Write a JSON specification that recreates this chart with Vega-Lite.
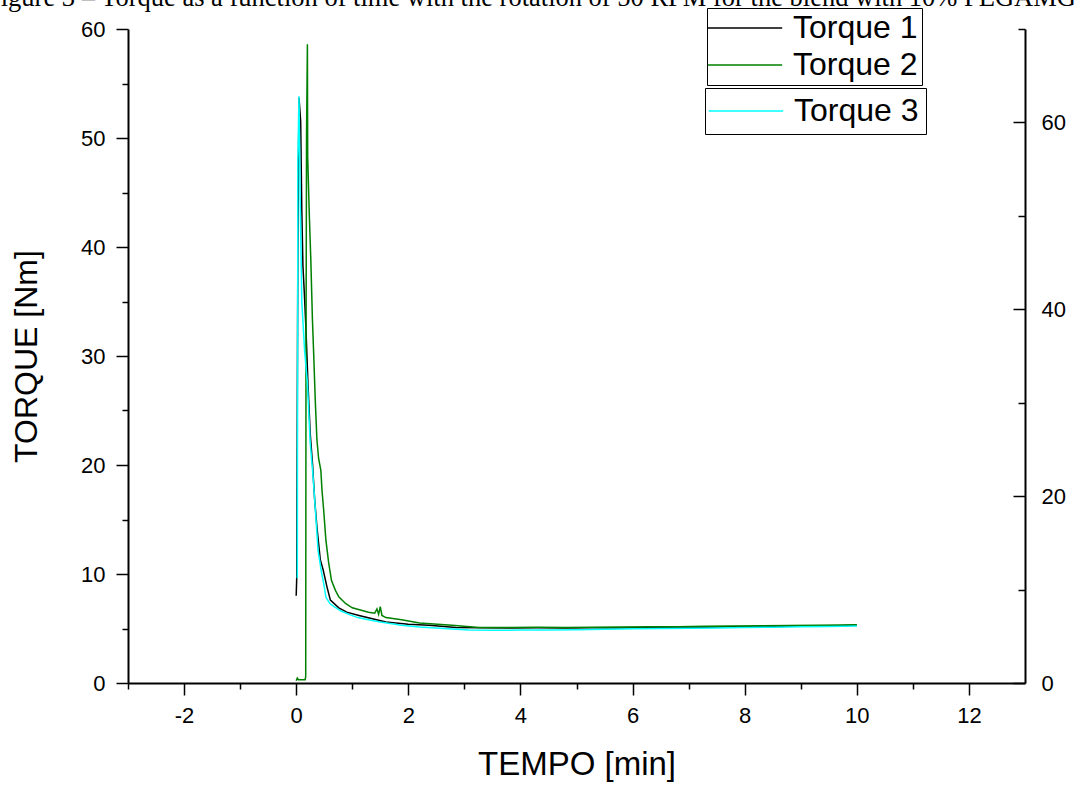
{
  "$schema": "https://vega.github.io/schema/vega-lite/v6.json",
  "width": 897,
  "height": 654,
  "autosize": {"type": "none"},
  "padding": {"left": 128, "top": 29, "right": 51, "bottom": 102},
  "background": "white",
  "title": {
    "text": "Figure 3 – Torque as a function of time with the rotation of 50 RPM for the blend with 10% PEGAMG",
    "anchor": "start",
    "frame": "group",
    "font": "Liberation Serif",
    "fontSize": 26.5,
    "fontWeight": "normal",
    "color": "black",
    "baseline": "alphabetic",
    "offset": -25,
    "limit": 3000,
    "dx": -142
  },
  "config": {
    "view": {"stroke": null},
    "axis": {
      "labelFont": "Liberation Sans",
      "titleFont": "Liberation Sans",
      "labelColor": "black",
      "titleColor": "black",
      "titleFontWeight": "normal",
      "domainColor": "black",
      "domainWidth": 2,
      "tickColor": "black",
      "tickWidth": 1.5,
      "grid": false,
      "labelFontSize": 22,
      "titleFontSize": 32,
      "labelOverlap": false,
      "labelFlush": false
    }
  },
  "layer": [
    {
      "data": {
        "values": [
          {"series": "Torque 1", "time": 0.0, "torque": 8.0},
          {"series": "Torque 1", "time": 0.01, "torque": 9.7},
          {"series": "Torque 1", "time": 0.015, "torque": 18.8},
          {"series": "Torque 1", "time": 0.03, "torque": 40.0},
          {"series": "Torque 1", "time": 0.05, "torque": 53.7},
          {"series": "Torque 1", "time": 0.08, "torque": 51.5},
          {"series": "Torque 1", "time": 0.1, "torque": 43.4},
          {"series": "Torque 1", "time": 0.12, "torque": 38.3},
          {"series": "Torque 1", "time": 0.146, "torque": 35.7},
          {"series": "Torque 1", "time": 0.175, "torque": 32.4},
          {"series": "Torque 1", "time": 0.21, "torque": 27.5},
          {"series": "Torque 1", "time": 0.25, "torque": 22.9},
          {"series": "Torque 1", "time": 0.29, "torque": 20.2},
          {"series": "Torque 1", "time": 0.33, "torque": 16.8},
          {"series": "Torque 1", "time": 0.37, "torque": 14.3},
          {"series": "Torque 1", "time": 0.43, "torque": 11.3},
          {"series": "Torque 1", "time": 0.48, "torque": 10.4},
          {"series": "Torque 1", "time": 0.55, "torque": 8.8},
          {"series": "Torque 1", "time": 0.61, "torque": 7.6},
          {"series": "Torque 1", "time": 0.76, "torque": 6.9},
          {"series": "Torque 1", "time": 0.9, "torque": 6.5},
          {"series": "Torque 1", "time": 1.12, "torque": 6.2},
          {"series": "Torque 1", "time": 1.6, "torque": 5.6},
          {"series": "Torque 1", "time": 2.0, "torque": 5.4},
          {"series": "Torque 1", "time": 2.37, "torque": 5.3},
          {"series": "Torque 1", "time": 2.85, "torque": 5.1},
          {"series": "Torque 1", "time": 3.3, "torque": 5.08},
          {"series": "Torque 1", "time": 3.8, "torque": 5.05},
          {"series": "Torque 1", "time": 4.3, "torque": 5.07},
          {"series": "Torque 1", "time": 4.8, "torque": 5.05},
          {"series": "Torque 1", "time": 5.3, "torque": 5.06},
          {"series": "Torque 1", "time": 5.8, "torque": 5.05},
          {"series": "Torque 1", "time": 6.3, "torque": 5.08},
          {"series": "Torque 1", "time": 6.8, "torque": 5.1},
          {"series": "Torque 1", "time": 7.3, "torque": 5.12},
          {"series": "Torque 1", "time": 7.8, "torque": 5.15},
          {"series": "Torque 1", "time": 8.3, "torque": 5.17},
          {"series": "Torque 1", "time": 8.8, "torque": 5.2},
          {"series": "Torque 1", "time": 9.3, "torque": 5.22},
          {"series": "Torque 1", "time": 9.7, "torque": 5.25},
          {"series": "Torque 1", "time": 10.0, "torque": 5.3},
          {"series": "Torque 2", "time": 0.0, "torque": 0.2},
          {"series": "Torque 2", "time": 0.02, "torque": 0.45},
          {"series": "Torque 2", "time": 0.04, "torque": 0.3},
          {"series": "Torque 2", "time": 0.16, "torque": 0.3},
          {"series": "Torque 2", "time": 0.17, "torque": 0.6},
          {"series": "Torque 2", "time": 0.175, "torque": 30.0},
          {"series": "Torque 2", "time": 0.185, "torque": 50.5},
          {"series": "Torque 2", "time": 0.2, "torque": 58.6},
          {"series": "Torque 2", "time": 0.205, "torque": 48.3},
          {"series": "Torque 2", "time": 0.235, "torque": 42.8},
          {"series": "Torque 2", "time": 0.26, "torque": 39.0},
          {"series": "Torque 2", "time": 0.29, "torque": 33.3},
          {"series": "Torque 2", "time": 0.31, "torque": 30.5},
          {"series": "Torque 2", "time": 0.34, "torque": 26.0},
          {"series": "Torque 2", "time": 0.37, "torque": 22.3},
          {"series": "Torque 2", "time": 0.4, "torque": 20.6},
          {"series": "Torque 2", "time": 0.44, "torque": 19.5},
          {"series": "Torque 2", "time": 0.46, "torque": 17.7},
          {"series": "Torque 2", "time": 0.49, "torque": 15.9},
          {"series": "Torque 2", "time": 0.53, "torque": 13.1},
          {"series": "Torque 2", "time": 0.58, "torque": 11.0},
          {"series": "Torque 2", "time": 0.63, "torque": 9.4},
          {"series": "Torque 2", "time": 0.7, "torque": 8.5},
          {"series": "Torque 2", "time": 0.76, "torque": 7.9},
          {"series": "Torque 2", "time": 0.88, "torque": 7.3},
          {"series": "Torque 2", "time": 1.0, "torque": 6.9},
          {"series": "Torque 2", "time": 1.29, "torque": 6.5},
          {"series": "Torque 2", "time": 1.4, "torque": 6.4},
          {"series": "Torque 2", "time": 1.44, "torque": 6.8},
          {"series": "Torque 2", "time": 1.47, "torque": 6.3},
          {"series": "Torque 2", "time": 1.5, "torque": 7.0},
          {"series": "Torque 2", "time": 1.53, "torque": 6.2},
          {"series": "Torque 2", "time": 1.6, "torque": 6.0},
          {"series": "Torque 2", "time": 1.88, "torque": 5.8},
          {"series": "Torque 2", "time": 2.2, "torque": 5.5},
          {"series": "Torque 2", "time": 2.78, "torque": 5.3},
          {"series": "Torque 2", "time": 3.26, "torque": 5.1},
          {"series": "Torque 2", "time": 3.8, "torque": 5.1},
          {"series": "Torque 2", "time": 4.3, "torque": 5.12},
          {"series": "Torque 2", "time": 4.8, "torque": 5.1},
          {"series": "Torque 2", "time": 5.3, "torque": 5.12},
          {"series": "Torque 2", "time": 5.8, "torque": 5.13},
          {"series": "Torque 2", "time": 6.3, "torque": 5.15},
          {"series": "Torque 2", "time": 6.8, "torque": 5.17},
          {"series": "Torque 2", "time": 7.3, "torque": 5.2},
          {"series": "Torque 2", "time": 7.8, "torque": 5.22},
          {"series": "Torque 2", "time": 8.3, "torque": 5.25},
          {"series": "Torque 2", "time": 8.8, "torque": 5.27},
          {"series": "Torque 2", "time": 9.3, "torque": 5.3},
          {"series": "Torque 2", "time": 9.7, "torque": 5.32},
          {"series": "Torque 2", "time": 10.0, "torque": 5.35}
        ]
      },
      "mark": {"type": "line", "strokeWidth": 1.5},
      "encoding": {
        "x": {
          "field": "time",
          "type": "quantitative",
          "scale": {"domain": [-3, 13], "nice": false, "zero": false},
          "axis": {
            "title": "TEMPO [min]",
            "titleFontSize": 33,
            "values": [-3, -2, -1, 0, 1, 2, 3, 4, 5, 6, 7, 8, 9, 10, 11, 12],
            "labelExpr": "datum.value % 2 === 0 ? toString(datum.value) : ''",
            "tickSize": {"condition": {"test": "datum.value % 2 === 0", "value": 12}, "value": 6},
            "labelPadding": 10,
            "titlePadding": 22
          }
        },
        "y": {
          "field": "torque",
          "type": "quantitative",
          "scale": {"domain": [0, 60], "nice": false},
          "axis": {
            "title": "TORQUE [Nm]",
            "values": [0, 5, 10, 15, 20, 25, 30, 35, 40, 45, 50, 55, 60],
            "labelExpr": "datum.value % 10 === 0 ? toString(datum.value) : ''",
            "tickSize": {"condition": {"test": "datum.value % 10 === 0", "value": 12}, "value": 6},
            "labelPadding": 11,
            "titlePadding": 37
          }
        },
        "color": {
          "field": "series",
          "type": "nominal",
          "scale": {"domain": ["Torque 1", "Torque 2"], "range": ["#000000", "#008000"]},
          "legend": {
            "title": null,
            "orient": "none",
            "legendX": 579,
            "legendY": -21,
            "strokeColor": "black",
            "fillColor": "white",
            "padding": 4,
            "symbolType": "M-1.6,0H4.6",
            "symbolSize": 576,
            "symbolStrokeWidth": 1.5,
            "labelFont": "Liberation Sans",
            "labelFontSize": 32,
            "labelColor": "black",
            "labelOffset": 50,
            "rowPadding": 5
          }
        }
      }
    },
    {
      "data": {
        "values": [
          {"series": "Torque 3", "time": 0.02, "torque_r": 11.2},
          {"series": "Torque 3", "time": 0.03, "torque_r": 56.0},
          {"series": "Torque 3", "time": 0.05, "torque_r": 62.8},
          {"series": "Torque 3", "time": 0.07, "torque_r": 52.5},
          {"series": "Torque 3", "time": 0.1, "torque_r": 40.8},
          {"series": "Torque 3", "time": 0.15, "torque_r": 35.6},
          {"series": "Torque 3", "time": 0.2, "torque_r": 32.1},
          {"series": "Torque 3", "time": 0.25, "torque_r": 25.7},
          {"series": "Torque 3", "time": 0.3, "torque_r": 22.2},
          {"series": "Torque 3", "time": 0.33, "torque_r": 19.6},
          {"series": "Torque 3", "time": 0.39, "torque_r": 14.2},
          {"series": "Torque 3", "time": 0.45, "torque_r": 11.9},
          {"series": "Torque 3", "time": 0.49, "torque_r": 10.7},
          {"series": "Torque 3", "time": 0.53, "torque_r": 9.2},
          {"series": "Torque 3", "time": 0.6, "torque_r": 8.5},
          {"series": "Torque 3", "time": 0.67, "torque_r": 8.2},
          {"series": "Torque 3", "time": 0.8, "torque_r": 7.7},
          {"series": "Torque 3", "time": 0.94, "torque_r": 7.35},
          {"series": "Torque 3", "time": 1.1, "torque_r": 7.0},
          {"series": "Torque 3", "time": 1.29, "torque_r": 6.77},
          {"series": "Torque 3", "time": 1.5, "torque_r": 6.53},
          {"series": "Torque 3", "time": 1.88, "torque_r": 6.18},
          {"series": "Torque 3", "time": 2.2, "torque_r": 6.0},
          {"series": "Torque 3", "time": 2.49, "torque_r": 5.89},
          {"series": "Torque 3", "time": 3.08, "torque_r": 5.67},
          {"series": "Torque 3", "time": 3.5, "torque_r": 5.65},
          {"series": "Torque 3", "time": 4.0, "torque_r": 5.66},
          {"series": "Torque 3", "time": 4.5, "torque_r": 5.66},
          {"series": "Torque 3", "time": 5.0, "torque_r": 5.69},
          {"series": "Torque 3", "time": 5.5, "torque_r": 5.74},
          {"series": "Torque 3", "time": 6.0, "torque_r": 5.8},
          {"series": "Torque 3", "time": 6.5, "torque_r": 5.83},
          {"series": "Torque 3", "time": 7.0, "torque_r": 5.87},
          {"series": "Torque 3", "time": 7.5, "torque_r": 5.9},
          {"series": "Torque 3", "time": 8.0, "torque_r": 5.95},
          {"series": "Torque 3", "time": 8.5, "torque_r": 5.97},
          {"series": "Torque 3", "time": 9.0, "torque_r": 6.01},
          {"series": "Torque 3", "time": 9.5, "torque_r": 6.04},
          {"series": "Torque 3", "time": 10.0, "torque_r": 6.09}
        ]
      },
      "mark": {"type": "line", "strokeWidth": 1.5},
      "encoding": {
        "x": {"field": "time", "type": "quantitative"},
        "y": {
          "field": "torque_r",
          "type": "quantitative",
          "scale": {"domain": [0, 70], "nice": false},
          "axis": {
            "orient": "right",
            "title": null,
            "values": [0, 10, 20, 30, 40, 50, 60, 70],
            "labelExpr": "datum.value % 20 === 0 ? toString(datum.value) : ''",
            "tickSize": {"condition": {"test": "datum.value % 20 === 0", "value": -12}, "value": -7},
            "labelAlign": "left",
            "labelPadding": 28
          }
        },
        "stroke": {
          "field": "series",
          "type": "nominal",
          "scale": {"domain": ["Torque 3"], "range": ["#00ffff"]},
          "legend": {
            "title": null,
            "orient": "none",
            "legendX": 577,
            "legendY": 59,
            "strokeColor": "black",
            "fillColor": "white",
            "padding": 7,
            "symbolType": "M-1.6,0H4.6",
            "symbolSize": 576,
            "symbolStrokeWidth": 1.5,
            "labelFont": "Liberation Sans",
            "labelFontSize": 32,
            "labelColor": "black",
            "labelOffset": 50
          }
        }
      }
    }
  ],
  "resolve": {"scale": {"y": "independent"}, "axis": {"y": "independent"}}
}
